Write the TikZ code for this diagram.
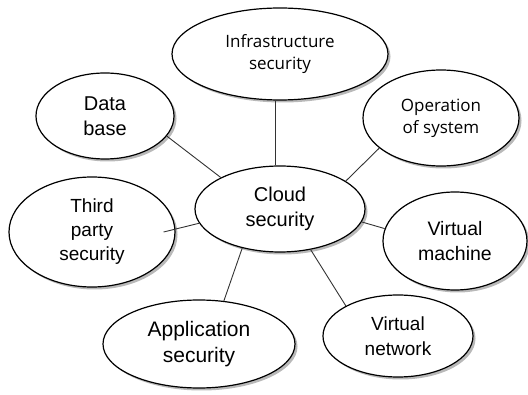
\documentclass[tikz,border=0pt]{standalone}
\usepackage{fontspec}
\setmainfont{Liberation Sans}
\newfontfamily\labelfont{Open Sans}
\usepackage{tikz}
\usetikzlibrary{shapes.geometric, shadows, positioning}
\colorlet{colorBorder}{black}
\colorlet{colorLink}{black!80}
\tikzset{bubble/.style={ellipse, draw=colorBorder, line width=1.2pt, fill=white, inner sep=0pt, align=center,
  drop shadow={shadow xshift=2.5pt, shadow yshift=-2.5pt, fill=black!55}}}
\begin{document}
\begin{tikzpicture}[x=1pt, y=1pt, on grid, every node/.style={font=\fontsize{20}{25}\selectfont}]
\useasboundingbox (0,0) rectangle (528,-395);
\node[bubble, minimum width=170pt, minimum height=86pt] (cloud) at (280,-209) {Cloud\\security};
\node[bubble, above=155pt of cloud, minimum width=216pt, minimum height=92pt, font=\labelfont\fontsize{17}{22}\selectfont] (infra) {Infrastructure\\security};
\node[bubble, above left=93pt and 175pt of cloud, minimum width=138pt, minimum height=86pt] (db) {Data\\base};
\node[bubble, above right=91pt and 161pt of cloud, minimum width=156pt, minimum height=96pt, font=\labelfont\fontsize{17}{22}\selectfont] (os) {Operation\\of system};
\node[bubble, below left=23pt and 188pt of cloud, minimum width=166pt, minimum height=110pt, font=\fontsize{19}{24}\selectfont] (third) {Third\\party\\security};
\node[bubble, below right=32pt and 175pt of cloud, minimum width=144pt, minimum height=98pt, font=\fontsize{19.5}{25}\selectfont] (vm) {Virtual\\machine};
\node[bubble, below left=135pt and 81pt of cloud, minimum width=192pt, minimum height=88pt, font=\fontsize{21}{26}\selectfont] (app) {Application\\security};
\node[bubble, below right=127pt and 118pt of cloud, minimum width=150pt, minimum height=82pt, font=\fontsize{19}{25}\selectfont] (vnet) {Virtual\\network};
% links to the centre
\draw[colorLink, line width=0.9pt] ([xshift=-5pt]infra.south) -- ([xshift=-5pt]cloud.north);
\draw[colorLink, line width=0.9pt] (db.-18) -- (cloud.152);
\draw[colorLink, line width=0.9pt] (os.-154) -- (cloud.23);
\draw[colorLink, line width=0.9pt] ([xshift=-12pt]third.east) -- (cloud.190);
\draw[colorLink, line width=0.9pt] (vm.170) -- (cloud.-9);
\draw[colorLink, line width=0.9pt] (app.60) -- (cloud.-134);
\draw[colorLink, line width=0.9pt] (vnet.150) -- (cloud.-53);
\end{tikzpicture}
\end{document}
